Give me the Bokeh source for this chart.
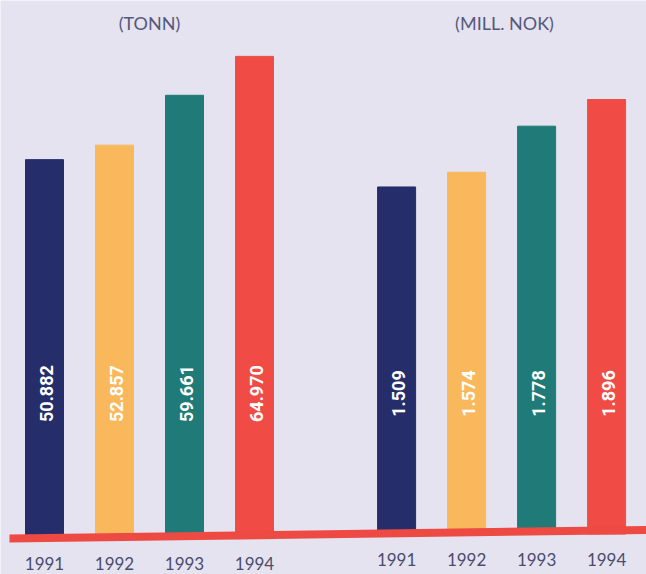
import math
from bokeh.plotting import figure
from bokeh.models import Range1d, ColumnDataSource
from bokeh.core.properties import value
from bokeh.embed import file_html
from bokeh.resources import INLINE

# ---- data ----
years = ["1991", "1992", "1993", "1994"]
tonn = [50882, 52857, 59661, 64970]
mill_nok = [1509, 1574, 1778, 1896]
bar_colors = ["#262d6b", "#f9b85c", "#1f7a78", "#f04c45"]
titles = ["(TONN)", "(MILL. NOK)"]

def nor(v):
    return f"{v:,}".replace(",", ".")

# ---- layout constants (pixels) ----
W, H = 646, 574
unit = 70.0                # px per category step
x0 = 44.0                  # px of first bar centre
group_gap = 5.03           # category steps between first bars of the two groups
left_scale = 0.00733       # px per tonn
right_scale = 0.226        # px per mill NOK
left_zero_top = 532.1      # px from top of figure
right_zero_top = 527.5
bg = "#e4e3ef"

p = figure(width=W, height=H, output_backend="svg", toolbar_location=None,
           x_range=Range1d(-x0 / unit, (W - x0) / unit),
           y_range=Range1d(-(H - left_zero_top) / left_scale, left_zero_top / left_scale),
           min_border=0, background_fill_color=bg, border_fill_color=bg,
           outline_line_color=None)
p.extra_y_ranges = {"nok": Range1d(-(H - right_zero_top) / right_scale, right_zero_top / right_scale)}
p.xaxis.visible = False
p.yaxis.visible = False
p.grid.visible = False

xl = [i for i in range(len(years))]
xr = [group_gap + i for i in range(len(years))]

src_l = ColumnDataSource(dict(x=xl, top=tonn, color=bar_colors, lab=[nor(v) for v in tonn], yr=years))
src_r = ColumnDataSource(dict(x=xr, top=mill_nok, color=bar_colors, lab=[nor(v) for v in mill_nok], yr=years))

bw = 38.0 / unit
p.vbar(x="x", top="top", bottom=-6 / left_scale, width=bw, color="color", source=src_l)
p.vbar(x="x", top="top", bottom=-6 / right_scale, width=bw, color="color", source=src_r,
       y_range_name="nok")

# red baseline band (slightly tilted like the scan)
xa, xb = (9 - x0) / unit, (W - x0) / unit
band_px = [-2.0, 6.6, -1.4, -10.0]
p.patch(x=[xa, xb, xb, xa], y=[v / left_scale for v in band_px],
        fill_color="#ee4a44", line_color=None)

# value labels inside bars and year labels below
for src, off, rng in ((src_l, -139, "default"), (src_r, -134.5, "nok")):
    kw = {} if rng == "default" else {"y_range_name": rng}
    p.text(x="x", y=0, text="lab", source=src, angle=math.pi / 2,
           x_offset=2, y_offset=off, text_align="center", text_baseline="middle",
           text_color="white", text_font=value("Roboto"), text_font_style="bold",
           text_font_size="18px", **kw)
    p.text(x="x", y=0, text="yr", source=src, x_offset=0, y_offset=31,
           text_align="center", text_baseline="alphabetic",
           text_color="#4a4c70", text_font=value("Lato"), text_font_size="17px", **kw)

# unit titles
p.text(x=[1.5, 6.5], y=[p.y_range.end, p.y_range.end], text=titles,
       x_offset=[0, 5], y_offset=22.5, text_align="center", text_baseline="middle",
       text_color="#56587c", text_font=value("Lato"), text_font_size="18px")

open("out.html", "w").write(file_html(p, INLINE))
